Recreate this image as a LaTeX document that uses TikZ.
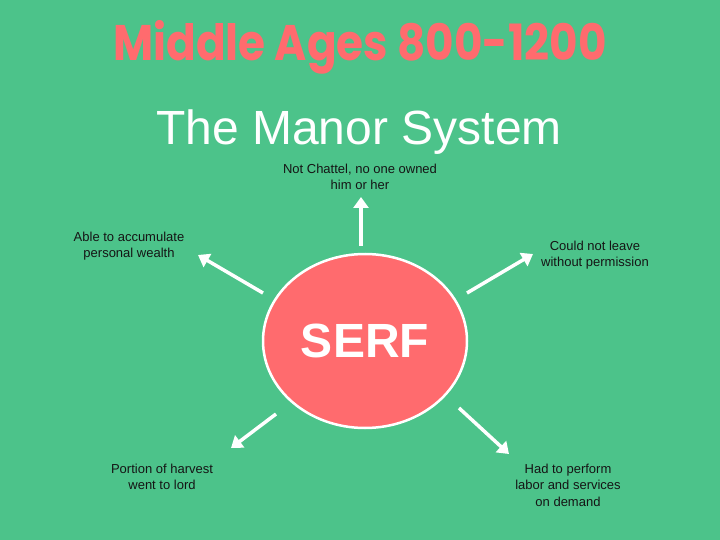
\documentclass[tikz,border=0pt]{standalone}
\usepackage{fontspec}
\setmainfont{Liberation Sans}
\newfontfamily\headfont{Poppins}
\usetikzlibrary{arrows.meta,positioning,shapes.geometric}
\definecolor{meadow}{HTML}{4CC38A}
\definecolor{coral}{HTML}{FF6B6E}
\definecolor{inkDk}{HTML}{151515}
\tikzset{
  note/.style={text=inkDk, font=\fontsize{13}{16.5}\selectfont, align=center, inner sep=0pt},
  spoke/.style={draw=white, line width=3.5pt, -{Triangle[width=15pt,length=11pt]}},
}

\begin{document}
\begin{tikzpicture}[x=1pt,y=-1pt]
  \fill[meadow] (0,0) rectangle (720,540);
  \useasboundingbox (0,0) rectangle (720,540);

  % headings
  \node[text=coral, font=\headfont\bfseries\fontsize{50}{50}\selectfont, anchor=base, xscale=0.875] (era) at (360,61) {Middle Ages 800-1200};
  \node[text=white, font=\fontsize{48}{48}\selectfont, anchor=base] (topic) at (359,145) {The Manor System};

  \node[ellipse, draw=white, line width=2.5pt, fill=coral, minimum width=204pt, minimum height=174pt,
        text=white, font=\bfseries\fontsize{48}{48}\selectfont] (serf) at (365,341) {SERF};

  \node[note] (chattel) at (360,177) {Not Chattel, no one owned\\him or her};
  \node[note] (wealth) at (129,246) {Able to accumulate\\personal wealth};
  \node[note] (leave) at (595,255) {Could not leave\\without permission};
  \node[note] (harvest) at (162,477) {Portion of harvest\\went to lord};
  \node[note] (labor) at (568,485) {Had to perform\\labor and services\\on demand};

  \coordinate (upTail) at (361,246);   \coordinate (upTip) at (361,197);
  \coordinate (ulTail) at (263,293);   \coordinate (ulTip) at (198,255);
  \coordinate (urTail) at (467,293);   \coordinate (urTip) at (533,254);
  \coordinate (llTail) at (276,414);   \coordinate (llTip) at (231,448);
  \coordinate (lrTail) at (459,408);   \coordinate (lrTip) at (509,454);

  \draw[spoke] (upTail) -- (upTip);
  \draw[spoke] (ulTail) -- (ulTip);
  \draw[spoke] (urTail) -- (urTip);
  \draw[spoke] (llTail) -- (llTip);
  \draw[spoke] (lrTail) -- (lrTip);
\end{tikzpicture}
\end{document}
